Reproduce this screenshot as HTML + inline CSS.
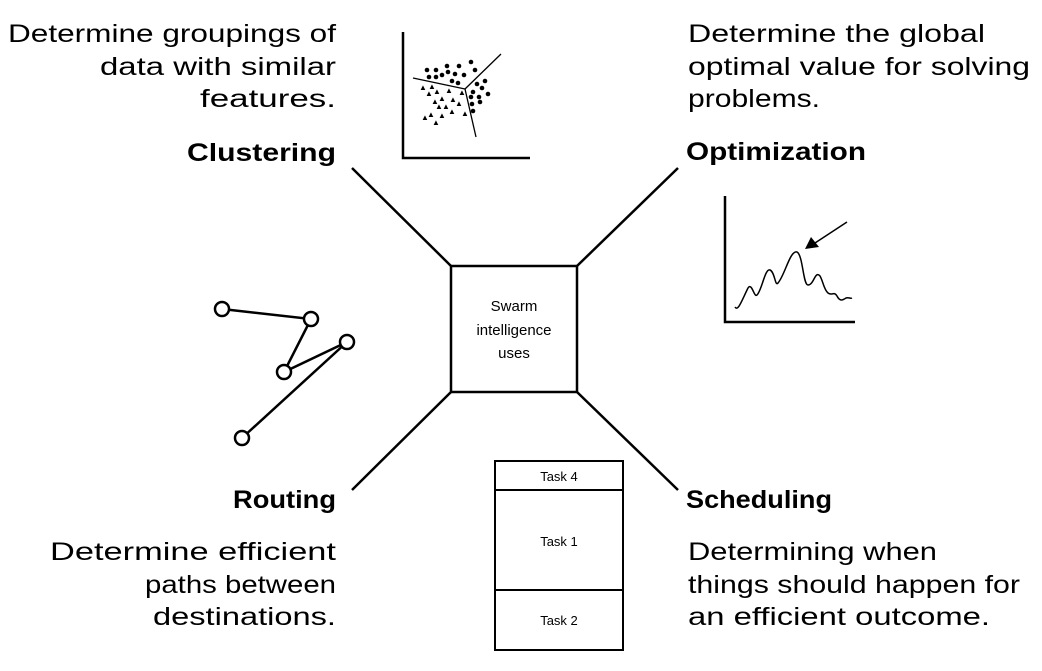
<!DOCTYPE html>
<html><head><meta charset="utf-8"><style>html,body{margin:0;padding:0;background:#fff}svg{display:block}</style></head>
<body>
<svg width="1042" height="671" viewBox="0 0 1042 671" xmlns="http://www.w3.org/2000/svg" font-family="Liberation Sans, sans-serif" fill="#000">
<g font-size="25" lengthAdjust="spacingAndGlyphs">
<text x="8" y="42" textLength="328" lengthAdjust="spacingAndGlyphs">Determine groupings of</text>
<text x="100" y="75" textLength="236" lengthAdjust="spacingAndGlyphs">data with similar</text>
<text x="200" y="107" textLength="136" lengthAdjust="spacingAndGlyphs">features.</text>
<text x="688" y="42" textLength="297" lengthAdjust="spacingAndGlyphs">Determine the global</text>
<text x="688" y="75" textLength="342" lengthAdjust="spacingAndGlyphs">optimal value for solving</text>
<text x="688" y="107" textLength="132" lengthAdjust="spacingAndGlyphs">problems.</text>
<text x="50" y="560" textLength="286" lengthAdjust="spacingAndGlyphs">Determine efficient</text>
<text x="145" y="593" textLength="191" lengthAdjust="spacingAndGlyphs">paths between</text>
<text x="153" y="625" textLength="183" lengthAdjust="spacingAndGlyphs">destinations.</text>
<text x="688" y="560" textLength="249" lengthAdjust="spacingAndGlyphs">Determining when</text>
<text x="688" y="593" textLength="332" lengthAdjust="spacingAndGlyphs">things should happen for</text>
<text x="688" y="625" textLength="302" lengthAdjust="spacingAndGlyphs">an efficient outcome.</text>
</g>
<g font-size="25" font-weight="bold">
<text x="187" y="161" textLength="149" lengthAdjust="spacingAndGlyphs">Clustering</text>
<text x="686" y="160" textLength="180" lengthAdjust="spacingAndGlyphs">Optimization</text>
<text x="233" y="508" textLength="103" lengthAdjust="spacingAndGlyphs">Routing</text>
<text x="686" y="508" textLength="146" lengthAdjust="spacingAndGlyphs">Scheduling</text>
</g>
<g stroke="#000" stroke-width="2.5" fill="none">
<rect x="451" y="266" width="126" height="126"/>
<line x1="451" y1="266" x2="352" y2="168"/>
<line x1="577" y1="266" x2="678" y2="168"/>
<line x1="451" y1="392" x2="352" y2="490"/>
<line x1="577" y1="392" x2="678" y2="490"/>
<rect x="495" y="461" width="128" height="189" stroke-width="2"/>
<line x1="495" y1="490" x2="623" y2="490" stroke-width="2"/>
<line x1="495" y1="590" x2="623" y2="590" stroke-width="2"/>
<polyline points="403,32 403,158 530,158"/>
<polyline points="725,196 725,322 855,322"/>
</g>
<g font-size="15" text-anchor="middle">
<text x="514" y="311">Swarm</text>
<text x="514" y="335">intelligence</text>
<text x="514" y="358">uses</text>
</g>
<g font-size="13" text-anchor="middle">
<text x="559" y="481">Task 4</text>
<text x="559" y="546">Task 1</text>
<text x="559" y="625">Task 2</text>
</g>
<g stroke="#000" stroke-width="1.3" fill="none">
<line x1="465" y1="89" x2="501" y2="54"/>
<line x1="465" y1="89" x2="413" y2="78"/>
<line x1="465" y1="89" x2="476" y2="137"/>
</g>
<g>
<circle cx="427" cy="70" r="2.3"/><circle cx="436" cy="70" r="2.3"/><circle cx="447" cy="66" r="2.3"/><circle cx="459" cy="66" r="2.3"/><circle cx="471" cy="62" r="2.3"/>
<circle cx="429" cy="77" r="2.3"/><circle cx="436" cy="77" r="2.3"/><circle cx="442" cy="75" r="2.3"/><circle cx="448" cy="72" r="2.3"/><circle cx="455" cy="74" r="2.3"/><circle cx="464" cy="75" r="2.3"/><circle cx="452" cy="81" r="2.3"/><circle cx="458" cy="83" r="2.3"/><circle cx="475" cy="70" r="2.3"/>
<circle cx="477" cy="84" r="2.3"/><circle cx="485" cy="81" r="2.3"/><circle cx="482" cy="88" r="2.3"/><circle cx="473" cy="92" r="2.3"/><circle cx="471" cy="97" r="2.3"/><circle cx="479" cy="97" r="2.3"/><circle cx="488" cy="94" r="2.3"/><circle cx="472" cy="104" r="2.3"/><circle cx="480" cy="102" r="2.3"/><circle cx="473" cy="111" r="2.3"/>
<g font-size="8" text-anchor="middle">
<text x="423" y="90">▲</text><text x="432" y="89">▲</text><text x="429" y="96">▲</text><text x="437" y="94">▲</text><text x="449" y="93">▲</text><text x="462" y="95">▲</text>
<text x="442" y="101">▲</text><text x="435" y="104">▲</text><text x="453" y="102">▲</text><text x="439" y="109">▲</text><text x="446" y="109">▲</text><text x="459" y="106">▲</text>
<text x="425" y="120">▲</text><text x="431" y="117">▲</text><text x="442" y="118">▲</text><text x="452" y="114">▲</text><text x="465" y="116">▲</text><text x="436" y="125">▲</text>
</g>
</g>
<path d="M735,307 C738,312 742,300 748,288 C752,282 754,298 757,295 C762,290 765,268 770,270 C775,272 775,287 778,283 C785,275 790,250 797,252 C803,255 803,285 808,285 C814,285 815,270 820,276 C823,281 824,290 828,293 C832,296 834,291 837,296 C840,302 843,300 846,298 C849,297 850,299 852,298" stroke="#000" stroke-width="1.5" fill="none"/>
<line x1="847" y1="222" x2="815" y2="243" stroke="#000" stroke-width="1.5"/>
<polygon points="805,249 811,237 819,247" fill="#000"/>
<g stroke="#000" stroke-width="2.5" fill="none">
<polyline points="222,309 311,319 284,372 347,342 242,438"/>
</g>
<g stroke="#000" stroke-width="2.5" fill="#fff">
<circle cx="222" cy="309" r="7"/><circle cx="311" cy="319" r="7"/><circle cx="284" cy="372" r="7"/><circle cx="347" cy="342" r="7"/><circle cx="242" cy="438" r="7"/>
</g>
</svg>
</body></html>
